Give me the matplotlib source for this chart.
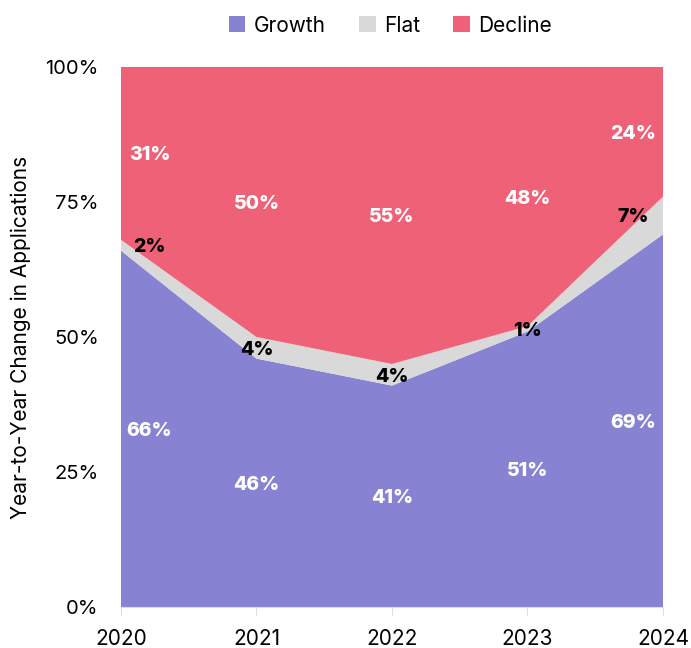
import numpy as np
import matplotlib.pyplot as plt
from matplotlib.patches import Patch

years = [2020, 2021, 2022, 2023, 2024]
growth = [66, 46, 41, 51, 69]
flat = [2, 4, 4, 1, 7]
decline = [31, 50, 55, 48, 24]

names = ["Growth", "Flat", "Decline"]
colors = ["#8882d2", "#d9d9d9", "#ef6176"]
label_colors = ["white", "black", "white"]

plt.rcParams["font.family"] = ["Inter", "DejaVu Sans"]

g = np.array(growth) / 100
f = np.array(flat) / 100
# decline fills the rest of the 100% (published shares are rounded)
d = 1 - g - f
layers = [g, f, d]

fig = plt.figure(figsize=(6.91, 6.48), dpi=100)
ax = fig.add_axes([0.175, 0.0633, 0.7845, 0.8333])
ax.stackplot(years, layers, colors=colors, linewidth=0)

ax.set_xlim(2020, 2024)
ax.set_ylim(0, 1)
ax.set_xticks(years)
ax.set_xticklabels([str(y) for y in years], fontsize=15)
ax.set_yticks([0, 0.25, 0.5, 0.75, 1.0])
ax.set_yticklabels(["0%", "25%", "50%", "75%", "100%"], fontsize=14.5)
ax.tick_params(axis="y", length=0, pad=16)
ax.tick_params(axis="x", length=6, color="#dddddd", pad=10)
for s in ["top", "right", "left"]:
    ax.spines[s].set_visible(False)
ax.spines["bottom"].set_color("#dddddd")
ax.set_ylabel("Year-to-Year Change in Applications", fontsize=15, labelpad=10)

# value labels at segment midpoints
texts = [growth, flat, decline]
bottom = np.zeros(len(years))
for i in range(3):
    for j, yr in enumerate(years):
        x = yr
        if j == 0:
            x = yr + 0.21
        elif j == len(years) - 1:
            x = yr - 0.22
        ax.text(x, bottom[j] + layers[i][j] / 2, f"{texts[i][j]}%",
                ha="center", va="center_baseline", fontsize=14,
                fontweight="heavy", color=label_colors[i])
    bottom = bottom + layers[i]

handles = [Patch(facecolor=c, label=n) for c, n in zip(colors, names)]
fig.legend(handles=handles, loc="upper center", bbox_to_anchor=(0.565, 1.005),
           ncol=3, frameon=False, fontsize=15, handlelength=0.8,
           handleheight=0.8, handletextpad=0.4, columnspacing=1.6)

plt.savefig("out.png", dpi=100)
